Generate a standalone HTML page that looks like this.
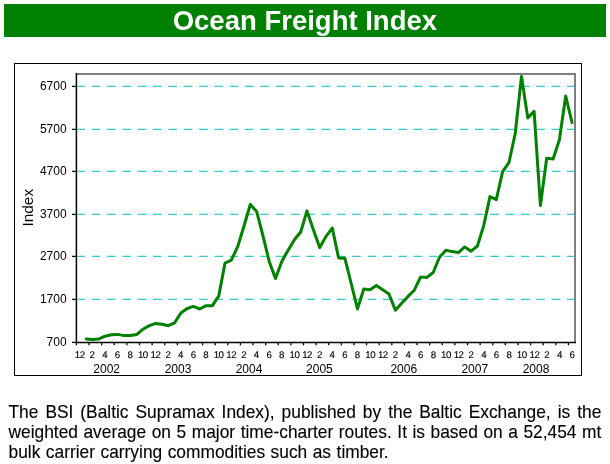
<!DOCTYPE html>
<html><head><meta charset="utf-8"><title>Ocean Freight Index</title>
<style>
html,body{margin:0;padding:0;background:#fff;}
body{width:610px;height:464px;position:relative;overflow:hidden;font-family:"Liberation Sans",Arial,sans-serif;}
#bar{position:absolute;left:4px;top:4px;width:602px;height:33px;background:#008000;color:#fff;font-weight:bold;font-size:27.5px;line-height:33px;text-align:center;}
#bar span{position:absolute;left:168.7px;top:-0.3px;white-space:nowrap;}
svg{position:absolute;left:0;top:0;}
.ln{position:absolute;left:8.5px;width:592.8px;height:20px;line-height:20px;font-size:17.35px;color:#000;white-space:nowrap;text-align:justify;text-align-last:justify;transform:scale(1,1.02);transform-origin:0 16.01px;-webkit-text-stroke:0.12px #000;}
.ln.l{text-align:left;text-align-last:left;word-spacing:0.7px;}
</style></head><body>
<div id="bar"><span>Ocean Freight Index</span></div>
<svg width="610" height="464" viewBox="0 0 610 464" font-family="Liberation Sans, Arial, sans-serif">
<rect x="14.5" y="63.5" width="567" height="312" fill="#fff" stroke="#000" stroke-width="1"/>
<polyline points="76,74 575,74 575,342" fill="none" stroke="#808080" stroke-width="2"/>
<g stroke="#33cccc" stroke-width="1.1" stroke-dasharray="8.6 6.73" fill="none"><line x1="76.4" x2="574" y1="299.40" y2="299.40"/><line x1="76.4" x2="574" y1="256.40" y2="256.40"/><line x1="76.4" x2="574" y1="214.40" y2="214.40"/><line x1="76.4" x2="574" y1="171.40" y2="171.40"/><line x1="76.4" x2="574" y1="129.40" y2="129.40"/><line x1="76.4" x2="574" y1="86.40" y2="86.40"/></g>
<g stroke="#000" stroke-width="1.5" fill="none"><line x1="76.4" x2="76.4" y1="73" y2="343.2"/><line x1="75.6" x2="576" y1="342.5" y2="342.5"/></g>
<g stroke="#000" stroke-width="1.3" fill="none"><line x1="72" x2="76" y1="342.40" y2="342.40"/><line x1="72" x2="76" y1="299.40" y2="299.40"/><line x1="72" x2="76" y1="256.40" y2="256.40"/><line x1="72" x2="76" y1="214.40" y2="214.40"/><line x1="72" x2="76" y1="171.40" y2="171.40"/><line x1="72" x2="76" y1="129.40" y2="129.40"/><line x1="72" x2="76" y1="86.40" y2="86.40"/></g><g stroke="#000" stroke-width="1.3" fill="none"><line x1="76.40" x2="76.40" y1="342" y2="345.3"/><line x1="89.02" x2="89.02" y1="342" y2="345.3"/><line x1="101.63" x2="101.63" y1="342" y2="345.3"/><line x1="114.25" x2="114.25" y1="342" y2="345.3"/><line x1="126.86" x2="126.86" y1="342" y2="345.3"/><line x1="139.48" x2="139.48" y1="342" y2="345.3"/><line x1="152.10" x2="152.10" y1="342" y2="345.3"/><line x1="164.71" x2="164.71" y1="342" y2="345.3"/><line x1="177.33" x2="177.33" y1="342" y2="345.3"/><line x1="189.94" x2="189.94" y1="342" y2="345.3"/><line x1="202.56" x2="202.56" y1="342" y2="345.3"/><line x1="215.18" x2="215.18" y1="342" y2="345.3"/><line x1="227.79" x2="227.79" y1="342" y2="345.3"/><line x1="240.41" x2="240.41" y1="342" y2="345.3"/><line x1="253.02" x2="253.02" y1="342" y2="345.3"/><line x1="265.64" x2="265.64" y1="342" y2="345.3"/><line x1="278.26" x2="278.26" y1="342" y2="345.3"/><line x1="290.87" x2="290.87" y1="342" y2="345.3"/><line x1="303.49" x2="303.49" y1="342" y2="345.3"/><line x1="316.10" x2="316.10" y1="342" y2="345.3"/><line x1="328.72" x2="328.72" y1="342" y2="345.3"/><line x1="341.34" x2="341.34" y1="342" y2="345.3"/><line x1="353.95" x2="353.95" y1="342" y2="345.3"/><line x1="366.57" x2="366.57" y1="342" y2="345.3"/><line x1="379.18" x2="379.18" y1="342" y2="345.3"/><line x1="391.80" x2="391.80" y1="342" y2="345.3"/><line x1="404.42" x2="404.42" y1="342" y2="345.3"/><line x1="417.03" x2="417.03" y1="342" y2="345.3"/><line x1="429.65" x2="429.65" y1="342" y2="345.3"/><line x1="442.26" x2="442.26" y1="342" y2="345.3"/><line x1="454.88" x2="454.88" y1="342" y2="345.3"/><line x1="467.50" x2="467.50" y1="342" y2="345.3"/><line x1="480.11" x2="480.11" y1="342" y2="345.3"/><line x1="492.73" x2="492.73" y1="342" y2="345.3"/><line x1="505.34" x2="505.34" y1="342" y2="345.3"/><line x1="517.96" x2="517.96" y1="342" y2="345.3"/><line x1="530.58" x2="530.58" y1="342" y2="345.3"/><line x1="543.19" x2="543.19" y1="342" y2="345.3"/><line x1="555.81" x2="555.81" y1="342" y2="345.3"/><line x1="568.42" x2="568.42" y1="342" y2="345.3"/></g>
<polyline points="86.3,339.0 92.6,339.5 98.9,338.9 105.2,336.2 111.5,334.8 117.8,334.4 124.1,335.6 130.4,335.6 136.7,334.6 143.0,329.2 149.3,325.6 155.6,323.4 162.0,324.3 168.3,325.7 174.6,322.8 180.9,313.0 187.2,308.5 193.5,306.4 199.8,309.0 206.1,305.7 212.4,305.7 218.7,296.2 225.0,263.1 231.3,260.2 237.7,246.7 244.0,226.0 250.3,204.5 256.6,211.4 262.9,235.5 269.2,261.4 275.5,278.5 281.8,261.4 288.1,250.2 294.4,239.8 300.7,232.0 307.0,210.9 313.3,229.5 319.7,247.6 326.0,236.4 332.3,228.1 338.6,257.9 344.9,258.3 351.2,283.5 357.5,308.9 363.8,289.0 370.1,289.8 376.4,285.5 382.7,289.8 389.0,294.1 395.4,310.2 401.7,303.3 408.0,296.4 414.3,290.2 420.6,277.0 426.9,277.4 433.2,272.5 439.5,257.2 445.8,250.3 452.1,251.6 458.4,252.6 464.7,246.9 471.1,251.2 477.4,246.0 483.7,225.6 490.0,196.6 496.3,199.7 502.6,171.6 508.9,162.7 515.2,133.8 521.5,76.4 527.8,117.9 534.1,111.4 540.4,205.5 546.7,158.3 553.1,159.0 559.4,139.8 565.7,96.0 572.0,122.5" fill="none" stroke="#008000" stroke-width="3" stroke-linejoin="round" stroke-linecap="round"/>
<g font-size="12" fill="#000"><text x="66.6" y="346.00" text-anchor="end">700</text><text x="66.6" y="303.00" text-anchor="end">1700</text><text x="66.6" y="260.00" text-anchor="end">2700</text><text x="66.6" y="218.00" text-anchor="end">3700</text><text x="66.6" y="175.00" text-anchor="end">4700</text><text x="66.6" y="133.00" text-anchor="end">5700</text><text x="66.6" y="90.00" text-anchor="end">6700</text></g>
<g font-size="9.7" fill="#000" stroke="#000" stroke-width="0.12"><text transform="translate(79.65 358) scale(1.0 1.0) rotate(0.05)" letter-spacing="-0.5" text-anchor="middle">12</text><text transform="translate(92.29 358) scale(1.0 1.0) rotate(0.05)" text-anchor="middle">2</text><text transform="translate(104.92 358) scale(1.0 1.0) rotate(0.05)" text-anchor="middle">4</text><text transform="translate(117.55 358) scale(1.0 1.0) rotate(0.05)" text-anchor="middle">6</text><text transform="translate(130.18 358) scale(1.0 1.0) rotate(0.05)" text-anchor="middle">8</text><text transform="translate(142.81 358) scale(1.0 1.0) rotate(0.05)" letter-spacing="-0.5" text-anchor="middle">10</text><text transform="translate(155.44 358) scale(1.0 1.0) rotate(0.05)" letter-spacing="-0.5" text-anchor="middle">12</text><text transform="translate(168.07 358) scale(1.0 1.0) rotate(0.05)" text-anchor="middle">2</text><text transform="translate(180.71 358) scale(1.0 1.0) rotate(0.05)" text-anchor="middle">4</text><text transform="translate(193.34 358) scale(1.0 1.0) rotate(0.05)" text-anchor="middle">6</text><text transform="translate(205.97 358) scale(1.0 1.0) rotate(0.05)" text-anchor="middle">8</text><text transform="translate(218.60 358) scale(1.0 1.0) rotate(0.05)" letter-spacing="-0.5" text-anchor="middle">10</text><text transform="translate(231.23 358) scale(1.0 1.0) rotate(0.05)" letter-spacing="-0.5" text-anchor="middle">12</text><text transform="translate(243.86 358) scale(1.0 1.0) rotate(0.05)" text-anchor="middle">2</text><text transform="translate(256.49 358) scale(1.0 1.0) rotate(0.05)" text-anchor="middle">4</text><text transform="translate(269.12 358) scale(1.0 1.0) rotate(0.05)" text-anchor="middle">6</text><text transform="translate(281.76 358) scale(1.0 1.0) rotate(0.05)" text-anchor="middle">8</text><text transform="translate(294.39 358) scale(1.0 1.0) rotate(0.05)" letter-spacing="-0.5" text-anchor="middle">10</text><text transform="translate(307.02 358) scale(1.0 1.0) rotate(0.05)" letter-spacing="-0.5" text-anchor="middle">12</text><text transform="translate(319.65 358) scale(1.0 1.0) rotate(0.05)" text-anchor="middle">2</text><text transform="translate(332.28 358) scale(1.0 1.0) rotate(0.05)" text-anchor="middle">4</text><text transform="translate(344.91 358) scale(1.0 1.0) rotate(0.05)" text-anchor="middle">6</text><text transform="translate(357.54 358) scale(1.0 1.0) rotate(0.05)" text-anchor="middle">8</text><text transform="translate(370.18 358) scale(1.0 1.0) rotate(0.05)" letter-spacing="-0.5" text-anchor="middle">10</text><text transform="translate(382.81 358) scale(1.0 1.0) rotate(0.05)" letter-spacing="-0.5" text-anchor="middle">12</text><text transform="translate(395.44 358) scale(1.0 1.0) rotate(0.05)" text-anchor="middle">2</text><text transform="translate(408.07 358) scale(1.0 1.0) rotate(0.05)" text-anchor="middle">4</text><text transform="translate(420.70 358) scale(1.0 1.0) rotate(0.05)" text-anchor="middle">6</text><text transform="translate(433.33 358) scale(1.0 1.0) rotate(0.05)" text-anchor="middle">8</text><text transform="translate(445.96 358) scale(1.0 1.0) rotate(0.05)" letter-spacing="-0.5" text-anchor="middle">10</text><text transform="translate(458.60 358) scale(1.0 1.0) rotate(0.05)" letter-spacing="-0.5" text-anchor="middle">12</text><text transform="translate(471.23 358) scale(1.0 1.0) rotate(0.05)" text-anchor="middle">2</text><text transform="translate(483.86 358) scale(1.0 1.0) rotate(0.05)" text-anchor="middle">4</text><text transform="translate(496.49 358) scale(1.0 1.0) rotate(0.05)" text-anchor="middle">6</text><text transform="translate(509.12 358) scale(1.0 1.0) rotate(0.05)" text-anchor="middle">8</text><text transform="translate(521.75 358) scale(1.0 1.0) rotate(0.05)" letter-spacing="-0.5" text-anchor="middle">10</text><text transform="translate(534.38 358) scale(1.0 1.0) rotate(0.05)" letter-spacing="-0.5" text-anchor="middle">12</text><text transform="translate(547.02 358) scale(1.0 1.0) rotate(0.05)" text-anchor="middle">2</text><text transform="translate(559.65 358) scale(1.0 1.0) rotate(0.05)" text-anchor="middle">4</text><text transform="translate(572.28 358) scale(1.0 1.0) rotate(0.05)" text-anchor="middle">6</text></g>
<g font-size="12" fill="#000"><text x="106.7" y="373" text-anchor="middle">2002</text><text x="178" y="373" text-anchor="middle">2003</text><text x="249" y="373" text-anchor="middle">2004</text><text x="319.4" y="373" text-anchor="middle">2005</text><text x="403.8" y="373" text-anchor="middle">2006</text><text x="474.8" y="373" text-anchor="middle">2007</text><text x="536" y="373" text-anchor="middle">2008</text></g>
<text transform="translate(32.7,207.7) rotate(-90)" font-size="15.4" text-anchor="middle" fill="#000">Index</text>
</svg>
<div class="ln" style="top:401.79px">The BSI (Baltic Supramax Index), published by the Baltic Exchange, is the</div>
<div class="ln" style="top:421.99px">weighted average on 5 major time-charter routes. It is based on a 52,454 mt</div>
<div class="ln l" style="top:441.89px">bulk carrier carrying commodities such as timber.</div>
</body></html>
